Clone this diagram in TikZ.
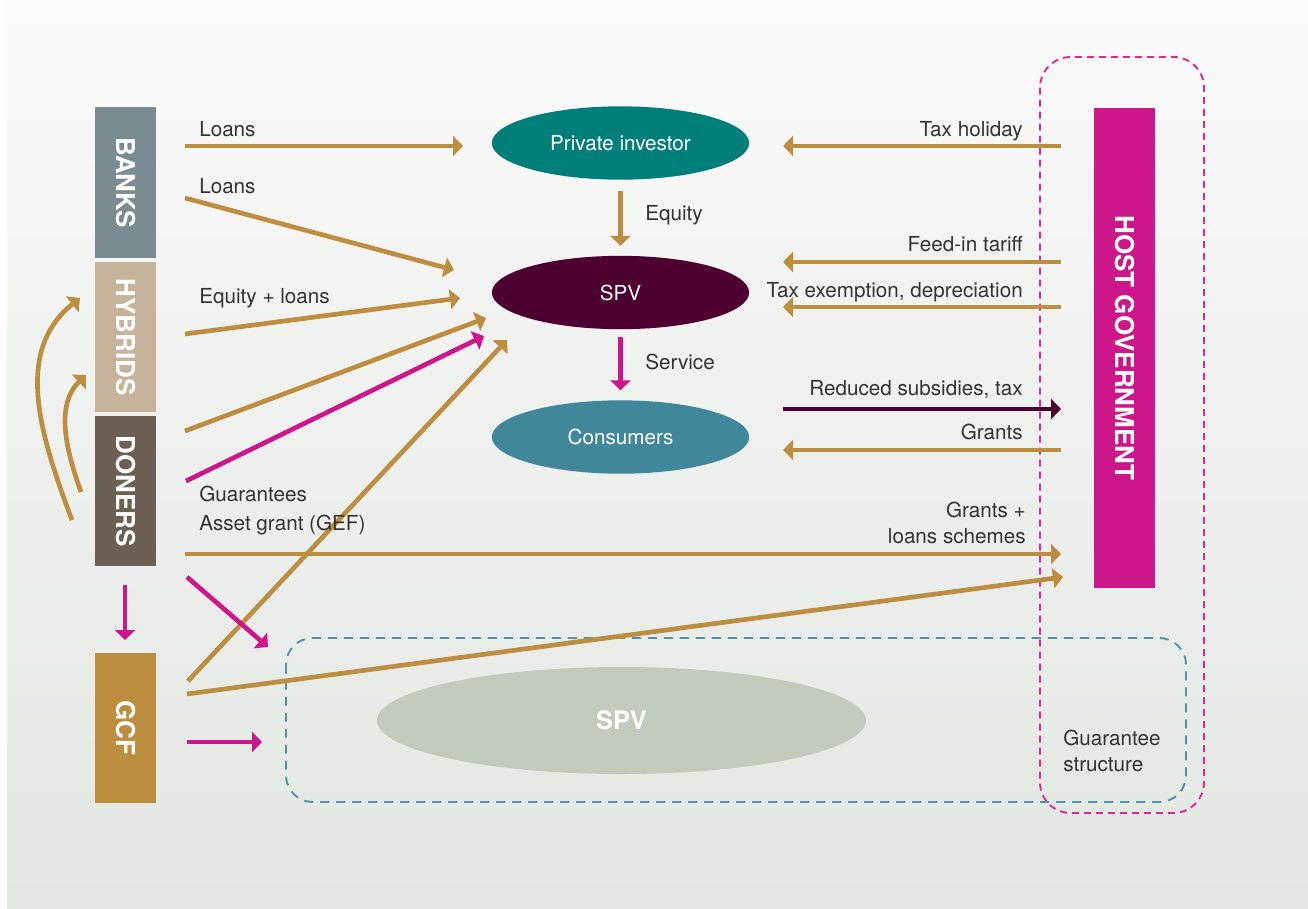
\documentclass[tikz,border=0pt]{standalone}
\usepackage{fontspec}
\setmainfont{TeX Gyre Heros}
\usetikzlibrary{arrows.meta,shapes.geometric}

\definecolor{bgtop}{HTML}{FAFAFA}
\definecolor{bgbot}{HTML}{E2E7E1}
\definecolor{txt}{HTML}{333333}
\definecolor{gold}{HTML}{BE8E40}
\definecolor{pinkline}{HTML}{CC1689}
\definecolor{plum}{HTML}{4E0030}
\definecolor{banksc}{HTML}{7A8B91}
\definecolor{hybridc}{HTML}{C5B49B}
\definecolor{donerc}{HTML}{6C6054}
\definecolor{tealc}{HTML}{007F7A}
\definecolor{consc}{HTML}{40879B}
\definecolor{greyspv}{HTML}{C2CABE}
\definecolor{dashblue}{HTML}{4A93AA}
\definecolor{dashpink}{HTML}{E0288F}

\begin{document}
\begin{tikzpicture}[x=0.75pt, y=-0.75pt,
    box/.style = {inner sep=0pt, outer sep=0pt, minimum height=45.75pt, rotate=-90,
                  text=white, font=\fontsize{19.5}{20}\selectfont\bfseries},
    oval/.style = {ellipse, inner sep=0pt, outer sep=0pt, minimum width=193pt,
                   minimum height=55pt, text=white, font=\fontsize{15.5}{18}\selectfont},
    lbl/.style = {inner sep=0pt, text=txt, font=\fontsize{15.5}{19.5}\selectfont},
    flow/.style = {line width=3.5pt, -{Triangle[length=7.5pt,width=15pt]}},
    frame/.style = {line width=1.4pt, rounded corners=20pt}
  ]
  % background
  \fill[white] (0,0) rectangle (1308,908);
  \shade[top color=bgtop, bottom color=bgbot] (7,0) rectangle (1308,908);

  % dashed frames
  \draw[frame, dashblue, dash pattern=on 6.75pt off 5.25pt] (286,638) rectangle (1186,802);
  \draw[frame, dashpink, dash pattern=on 5.25pt off 3.75pt, rounded corners=23pt] (1040,57) rectangle (1204,813);

  % actors
  \node[box, fill=banksc, minimum width=113.25pt] (banks) at (125.5,182.5) {BANKS};
  \node[box, fill=hybridc, minimum width=112.5pt] (hybrids) at (125.5,337) {HYBRIDS};
  \node[box, fill=donerc, minimum width=112.5pt] (doners) at (125.5,491) {DONERS};
  \node[box, fill=gold, minimum width=112.5pt] (gcf) at (125.5,728) {GCF};
  \node[box, fill=pinkline, minimum width=360pt] (host) at (1124.5,348) {HOST GOVERNMENT};

  \node[oval, fill=tealc] (pi) at (620.5,143) {Private investor};
  \node[oval, fill=plum] (spv) at (620.5,292.5) {SPV};
  \node[oval, fill=consc] (cons) at (620.5,437) {Consumers};
  \node[oval, fill=greyspv, minimum width=366.75pt, minimum height=80.25pt,
        font=\fontsize{19}{20}\selectfont\bfseries] (spvg) at (621.5,720.5) {SPV};

  % arrow ends
  \coordinate (bk1) at (185,146);   \coordinate (pi1) at (463,146);
  \coordinate (bk2) at (185,198);   \coordinate (sp1) at (454,270);
  \coordinate (hy1) at (185,334);   \coordinate (sp2) at (460,298);
  \coordinate (dn1) at (185,431);   \coordinate (sp3) at (486,318);
  \coordinate (dn2) at (186,481);   \coordinate (sp4) at (484,336);
  \coordinate (gc1) at (188,681);   \coordinate (sp5) at (507,340);
  \coordinate (dn3) at (185,554);   \coordinate (hg1) at (1061,554);
  \coordinate (gc2) at (187,694);   \coordinate (hg2) at (1063,577);
  \coordinate (dn4) at (187,577);   \coordinate (gs1) at (268,647);
  \coordinate (gc3) at (187,742);   \coordinate (gs2) at (262,742);
  \coordinate (dn5) at (125,585);   \coordinate (gc4) at (125,640);
  \coordinate (hg3) at (1061,146);  \coordinate (pi2) at (783,146);
  \coordinate (hg4) at (1061,262);  \coordinate (sp6) at (783,262);
  \coordinate (hg5) at (1061,307);  \coordinate (sp7) at (783,307);
  \coordinate (cs1) at (783,409);   \coordinate (hg6) at (1061,409);
  \coordinate (hg7) at (1061,450);  \coordinate (cs2) at (783,450);
  \coordinate (dn6) at (72,520);    \coordinate (hy2) at (80,298);
  \coordinate (dn7) at (81,492);    \coordinate (hy3) at (86,375);

  % flows
  \draw[flow, gold] (bk1) -- (pi1);
  \draw[flow, gold] (bk2) -- (sp1);
  \draw[flow, gold] (hy1) -- (sp2);
  \draw[flow, gold] (dn1) -- (sp3);
  \draw[flow, pinkline] (dn2) -- (sp4);
  \draw[flow, gold] (gc1) -- (sp5);
  \draw[flow, gold] (dn3) -- (hg1);
  \draw[flow, gold] (gc2) -- (hg2);
  \draw[flow, pinkline] (dn4) -- (gs1);
  \draw[flow, pinkline] (gc3) -- (gs2);
  \draw[flow, pinkline] (dn5) -- (gc4);
  \draw[flow, gold] (hg3) -- (pi2);
  \draw[flow, gold] (hg4) -- (sp6);
  \draw[flow, gold] (hg5) -- (sp7);
  \draw[flow, plum] (cs1) -- (hg6);
  \draw[flow, gold] (hg7) -- (cs2);
  \draw[flow, gold, shorten <=8.25pt, shorten >=7.5pt] (pi) -- (spv);
  \draw[flow, pinkline, shorten <=6pt, shorten >=7.5pt] (spv) -- (cons);
  \draw[flow, gold] (dn6) .. controls (38,430) and (15,350) .. (hy2);
  \draw[flow, gold] (dn7) .. controls (66,450) and (55,405) .. (hy3);

  % labels
  \node[lbl, anchor=base west] (t1) at (199,136) {Loans};
  \node[lbl, anchor=base west] (t2) at (199,193) {Loans};
  \node[lbl, anchor=base west] (t3) at (199,303) {Equity + loans};
  \node[lbl, anchor=west, align=left, font=\fontsize{15.5}{21.75}\selectfont] (t4) at (199,510.5) {Guarantees\\Asset grant (GEF)};
  \node[lbl, anchor=base west] (t5) at (645,220) {Equity};
  \node[lbl, anchor=base west] (t6) at (645,369) {Service};
  \node[lbl, anchor=base east] (t7) at (1023,136) {Tax holiday};
  \node[lbl, anchor=base east] (t8) at (1023,251.5) {Feed-in tariff};
  \node[lbl, anchor=base east] (t9) at (1023,297) {Tax exemption, depreciation};
  \node[lbl, anchor=base east] (t10) at (1023,395.5) {Reduced subsidies, tax};
  \node[lbl, anchor=base east] (t11) at (1023,439) {Grants};
  \node[lbl, anchor=east, align=right] (t12) at (1026,523) {Grants +\\loans schemes};
  \node[lbl, anchor=west, align=left] (t13) at (1063,751) {Guarantee\\structure};
\end{tikzpicture}
\end{document}
